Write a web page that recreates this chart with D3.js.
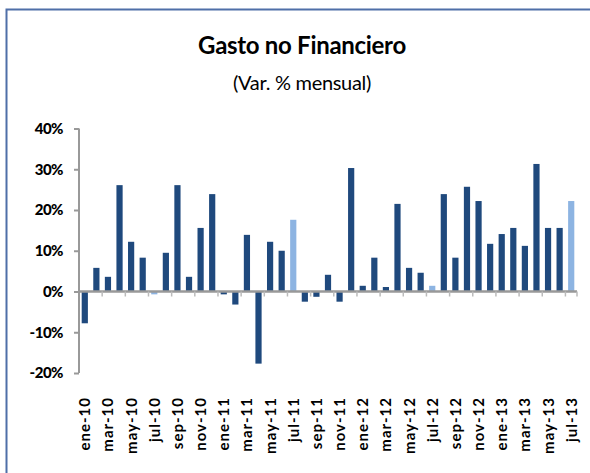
<!DOCTYPE html>
<html><head><meta charset="utf-8">
<script src="https://cdn.jsdelivr.net/npm/d3@7"></script>
<style>body{margin:0;background:#fff}svg{display:block}</style>
</head><body><svg id="c" width="590" height="473"></svg>
<script>
const months = ["ene","feb","mar","abr","may","jun","jul","ago","sep","oct","nov","dic"];
const years = ["10","11","12","13"];
const categories = [];
years.forEach(y => months.forEach(m => categories.push(m + "-" + y)));
categories.splice(43);
const values = [-7.8,5.8,3.6,26.1,12.2,8.3,-0.7,9.5,26.1,3.6,15.6,23.9,
  -0.7,-3.2,13.9,-17.7,12.2,10.0,17.6,-2.5,-1.3,4.1,-2.5,30.3,
  1.4,8.3,1.1,21.5,5.8,4.6,1.4,23.9,8.3,25.7,22.2,11.7,
  14.1,15.6,11.2,31.3,15.6,15.6,22.2];
const highlight = ["jul-10","jul-11","jul-12","jul-13"];
const yTicks = [-20,-10,0,10,20,30,40];

const svg = d3.select("#c");
const dark = "#1F497D", light = "#8DB4E2";
const font = "Lato, 'Open Sans', sans-serif";

svg.append("rect").attr("x",6.5).attr("y",9.5).attr("width",600).attr("height",500)
  .attr("fill","none").attr("stroke","#4F6FA8").attr("stroke-width",2);

svg.append("text").attr("x",302).attr("y",54).attr("text-anchor","middle")
  .attr("font-family",font).attr("font-weight","bold").attr("font-size",24).attr("letter-spacing",-0.3)
  .text("Gasto no Financiero");
svg.append("text").attr("x",302).attr("y",90).attr("text-anchor","middle")
  .attr("font-family",font).attr("font-size",20).attr("letter-spacing",-0.3)
  .text("(Var. % mensual)");

const x0 = 79, x1 = 577;
const xb = d3.scaleBand().domain(categories).range([x0, x1]);
const y = d3.scaleLinear().domain([-20, 40]).range([373, 128.5]);

// bars
svg.append("g").selectAll("rect").data(categories).join("rect")
  .attr("x", d => xb(d) + (xb.bandwidth() - 6.2)/2)
  .attr("width", 6.2)
  .attr("y", (d,i) => y(Math.max(0, values[i])))
  .attr("height", (d,i) => Math.abs(y(values[i]) - y(0)))
  .attr("fill", d => highlight.includes(d) ? light : dark);

// y axis
const ya = svg.append("g").attr("transform", `translate(${x0},0)`)
  .call(d3.axisLeft(y).tickValues(yTicks).tickFormat(d => d + "%").tickSize(5).tickPadding(11));
ya.select(".domain").attr("stroke","#999").attr("stroke-width",2).attr("d", `M0,${y(-20)}V${y(40)}`);
ya.selectAll(".tick line").attr("stroke","#999").attr("stroke-width",2);
ya.selectAll("text").attr("font-family",font).attr("font-weight","900").attr("font-size",15).attr("fill","#000").attr("letter-spacing",-0.5);

// x axis at zero
const xa = svg.append("g").attr("transform", `translate(0,${y(0)})`);
xa.append("line").attr("x1", x0).attr("x2", x1).attr("stroke","#999").attr("stroke-width",2.5);
const tickCats = categories.filter((d,i) => i % 2 === 0 && i > 0);
xa.selectAll("line.tk").data(tickCats).join("line").attr("class","tk")
  .attr("x1", d => xb(d)).attr("x2", d => xb(d)).attr("y1",0).attr("y2",5)
  .attr("stroke","#bbb").attr("stroke-width",1.5);
xa.append("line").attr("x1", x1).attr("x2", x1).attr("y1",0).attr("y2",5).attr("stroke","#bbb").attr("stroke-width",1.5);

// x labels
const labelCats = categories.filter((d,i) => i % 2 === 0);
svg.append("g").selectAll("text").data(labelCats).join("text")
  .attr("transform", d => `translate(${xb(d) + xb.bandwidth()/2 + 5.5},397) rotate(-90)`)
  .attr("text-anchor","end")
  .attr("font-family",font).attr("font-weight","bold").attr("font-size",15).attr("letter-spacing",1)
  .text(d => d);
</script></body></html>
